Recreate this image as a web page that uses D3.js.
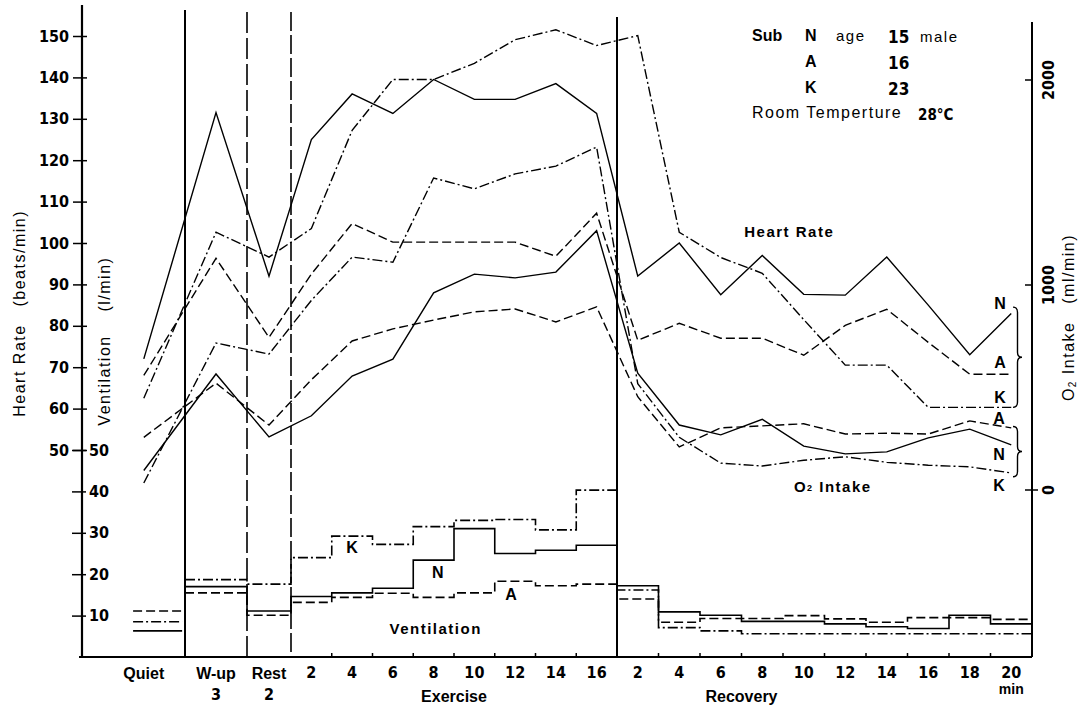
<!DOCTYPE html>
<html>
<head>
    <title>Heart Rate, O2 Intake and Ventilation</title>
    <script src="https://d3js.org/d3.v7.min.js"></script>
    <style>
        body {
            margin: 0;
            background: #fff;
        }
        svg {
            display: block;
            font-family: "Liberation Sans", Arial, sans-serif;
        }
        .num {
            font-family: "Liberation Sans Narrow", "DejaVu Sans Condensed", sans-serif;
            font-weight: bold;
            font-size: 16px;
        }
        .lbl {
            font-weight: bold;
            font-size: 16px;
        }
        .title {
            font-size: 15px;
            letter-spacing: 1.5px;
            white-space: pre;
        }
    </style>
</head>
<body>
    <div id="chart"></div>

    <script>
        // phases along the time axis
        const phases = ["Quiet", "W-up", "Rest", "Exercise", "Recovery"];
        const exMinutes = ["2", "4", "6", "8", "10", "12", "14", "16"];
        const recMinutes = ["2", "4", "6", "8", "10", "12", "14", "16", "18", "20"];
        const phaseSub = ["3", "2"]; // minutes of warm-up and rest

        // Heart rate (beats/min): quiet, w-up, rest, exercise x8, recovery x10
        const hrN = [72, 131.5, 92, 125, 136, 131.3, 139.5, 134.7, 134.7, 138.5, 131.3,
                     92, 100, 87.5, 97, 87.6, 87.4, 96.6, 85, 73, 83];
        const hrA = [68, 96.3, 77.2, 92.5, 104.7, 100.2, 100.2, 100.2, 100.2, 96.8, 107.2,
                     76.5, 80.6, 77, 77, 72.9, 80.1, 84, 76, 68.3, 68.3];
        const hrK = [62.5, 102.6, 96.6, 103.5, 127.2, 139.5, 139.5, 143.4, 149.1, 151.5, 147.7,
                     150.1, 102.6, 96.5, 92.7, 81.5, 70.5, 70.5, 60.3, 60.3, 60.3];

        // O2 intake (ml/min)
        const o2N = [95, 566, 259, 362, 556, 638, 962, 1053, 1035, 1063, 1265,
                     570, 317, 269, 345, 214, 176, 186, 254, 297, 220];
        const o2A = [257, 521, 317, 538, 727, 786, 829, 869, 883, 820, 893,
                     455, 210, 303, 313, 323, 273, 277, 273, 337, 303];
        const o2K = [34, 717, 663, 925, 1136, 1111, 1522, 1469, 1542, 1580, 1673,
                     519, 257, 131, 117, 145, 162, 135, 121, 113, 83];

        // Ventilation (l/min), one value per period
        const vN = [6.3, 17, 11.1, 14.6, 15.5, 16.6, 23.4, 31, 25, 25.8, 27,
                    17.2, 10.9, 10.1, 8.6, 8.6, 8.0, 7.3, 6.9, 10.1, 8.0];
        const vA = [11.1, 15.5, 10.1, 13.2, 14.4, 15.4, 14.4, 15.5, 18.3, 17.2, 17.6,
                    14.0, 8.4, 9.3, 9.3, 10.0, 9.2, 8.4, 9.5, 9.5, 9.1];
        const vK = [8.5, 18.7, 17.6, 24, 29.2, 27.2, 31.5, 33, 33.2, 30.7, 40.3,
                    16.2, 7.1, 6.3, 5.6, 5.6, 5.6, 5.6, 5.6, 5.6, 5.6];

        const hrTicks = [50, 60, 70, 80, 90, 100, 110, 120, 130, 140, 150];
        const ventTicks = [10, 20, 30, 40, 50];
        const o2Ticks = [0, 1000, 2000];

        const subjects = [
            {id: "N", age: 15, dash: null},
            {id: "A", age: 16, dash: "9,4"},
            {id: "K", age: 23, dash: "10,3,2,3"}
        ];

        const width = 1083, height = 705;
        const svg = d3.select("#chart").append("svg")
            .attr("width", width)
            .attr("height", height);

        // time axis in "slots": each 2-min period is one slot
        const x = d3.scaleLinear()
            .domain([0, 2.5, 4, 5, 13, 23])
            .range([82, 185, 247, 291, 617, 1032]);
        const y = d3.scaleLinear().domain([0, 150]).range([657, 36]);
        const yO2 = d3.scaleLinear().domain([0, 2000]).range([490, 80]);

        const slots = [1.5, 3.25, 4.5]
            .concat(exMinutes.map((d, i) => 5.5 + i))
            .concat(recMinutes.map((d, i) => 13.5 + i));

        // start of each period from w-up on (ventilation steps)
        const starts = [2.5, 4]
            .concat(exMinutes.map((d, i) => 5 + i))
            .concat(recMinutes.map((d, i) => 13 + i));

        // phase separators
        const seps = [
            {s: 2.5, dash: null, top: 10},
            {s: 4, dash: "21,5", top: 12},
            {s: 5, dash: "19,4", top: 12},
            {s: 13, dash: null, top: 17}
        ];
        svg.selectAll(".sep").data(seps).join("line")
            .attr("x1", d => x(d.s)).attr("x2", d => x(d.s))
            .attr("y1", d => d.top).attr("y2", y(0))
            .attr("stroke", "#000")
            .attr("stroke-width", d => d.dash ? 1.6 : 2)
            .attr("stroke-dasharray", d => d.dash);

        // axes frame
        svg.append("line").attr("x1", 82).attr("x2", 82).attr("y1", 5).attr("y2", y(0))
            .attr("stroke", "#000").attr("stroke-width", 2.2);
        svg.append("line").attr("x1", 79).attr("x2", x(23)).attr("y1", y(0)).attr("y2", y(0))
            .attr("stroke", "#000").attr("stroke-width", 2.2);
        svg.append("line").attr("x1", x(23)).attr("x2", x(23)).attr("y1", 22).attr("y2", y(0))
            .attr("stroke", "#000").attr("stroke-width", 2);

        // heart rate axis
        const hrAxis = svg.append("g")
            .attr("transform", "translate(82,0)")
            .call(d3.axisLeft(y).tickValues(hrTicks).tickSize(9).tickPadding(4));
        hrAxis.select(".domain").remove();
        hrAxis.selectAll(".tick line").attr("x2", -9).attr("x1", 5).attr("stroke-width", 1.5);
        hrAxis.selectAll("text").attr("class", "num").attr("fill", "#000");

        // ventilation axis (same scale)
        const vAxis = svg.append("g")
            .attr("transform", "translate(82,0)")
            .call(d3.axisRight(y).tickValues(ventTicks).tickSize(0).tickPadding(7));
        vAxis.select(".domain").remove();
        vAxis.selectAll(".tick line").attr("x1", -10).attr("x2", 4).attr("stroke-width", 1.5);
        vAxis.selectAll("text").attr("class", "num").attr("fill", "#000");

        // O2 axis on the right
        const o2g = svg.append("g").attr("transform", `translate(${x(23)},0)`);
        o2g.selectAll("line").data(o2Ticks).join("line")
            .attr("x1", -7).attr("x2", d => d === 0 ? 6 : 1)
            .attr("y1", d => yO2(d)).attr("y2", d => yO2(d))
            .attr("stroke", "#000").attr("stroke-width", 1.5);
        o2g.selectAll("text").data(o2Ticks).join("text")
            .attr("class", "num")
            .attr("transform", d => `translate(16,${yO2(d)}) rotate(-90)`)
            .attr("text-anchor", "middle")
            .attr("dominant-baseline", "central")
            .text(d => d);

        // small ticks on the time axis
        const timeTicks = starts.filter(e => e > 5 && e !== 13);
        svg.selectAll(".tt").data(timeTicks).join("line")
            .attr("x1", d => x(d)).attr("x2", d => x(d))
            .attr("y1", y(0)).attr("y2", y(0) - 4)
            .attr("stroke", "#000").attr("stroke-width", 1.5);

        // time labels
        svg.selectAll(".ex").data(exMinutes).join("text")
            .attr("class", "num")
            .attr("x", (d, i) => x(5.5 + i)).attr("y", 678)
            .attr("text-anchor", "middle").text(d => d);
        svg.selectAll(".rec").data(recMinutes).join("text")
            .attr("class", "num")
            .attr("x", (d, i) => x(13.5 + i)).attr("y", 678)
            .attr("text-anchor", "middle").text(d => d);

        const phaseLabels = [
            {t: phases[0], s: 1.5, y: 679},
            {t: phases[1], s: 3.25, y: 679},
            {t: phases[2], s: 4.5, y: 679},
            {t: phases[3], s: 9, y: 702},
            {t: phases[4], s: 16, y: 702}
        ];
        svg.selectAll(".ph").data(phaseLabels).join("text")
            .attr("class", "lbl")
            .attr("x", d => x(d.s)).attr("y", d => d.y)
            .attr("text-anchor", "middle").text(d => d.t);
        svg.selectAll(".phs").data(phaseSub).join("text")
            .attr("class", "num")
            .attr("x", (d, i) => x([3.25, 4.5][i])).attr("y", 700)
            .attr("text-anchor", "middle").text(d => d);
        svg.append("text").style("font-size", "14px").style("font-weight", "bold")
            .attr("x", x(22.5)).attr("y", 694).attr("text-anchor", "middle").text("min");

        // lines
        const hrLine = d3.line().x((d, i) => x(slots[i])).y(d => y(d));
        const o2Line = d3.line().x((d, i) => x(slots[i])).y(d => yO2(d));
        const stepLine = d3.line().x(d => x(d[0])).y(d => y(d[1])).curve(d3.curveStepAfter);

        const hrSeries = [hrN, hrA, hrK];
        const o2Series = [o2N, o2A, o2K];
        const vSeries = [vN, vA, vK];

        subjects.forEach((s, k) => {
            svg.append("path").datum(hrSeries[k])
                .attr("d", hrLine)
                .attr("fill", "none").attr("stroke", "#000").attr("stroke-width", 1.4)
                .attr("stroke-dasharray", s.dash);
            svg.append("path").datum(o2Series[k])
                .attr("d", o2Line)
                .attr("fill", "none").attr("stroke", "#000").attr("stroke-width", 1.4)
                .attr("stroke-dasharray", s.dash);

            // ventilation: quiet step stands alone, the rest is one stepped line
            const v = vSeries[k];
            svg.append("line")
                .attr("x1", x(1.24)).attr("x2", x(2.43))
                .attr("y1", y(v[0])).attr("y2", y(v[0]))
                .attr("stroke", "#000").attr("stroke-width", 1.6)
                .attr("stroke-dasharray", s.dash);
            const pts = v.slice(1).map((d, i) => [starts[i], d]);
            pts.push([23, v[v.length - 1]]);
            svg.append("path").datum(pts)
                .attr("d", stepLine)
                .attr("fill", "none").attr("stroke", "#000").attr("stroke-width", 1.6)
                .attr("stroke-dasharray", s.dash);
        });

        // axis titles
        svg.append("text").attr("class", "title")
            .attr("transform", `translate(19,${y(83)}) rotate(-90)`)
            .attr("text-anchor", "middle").attr("dominant-baseline", "central")
            .style("font-size", "16px")
            .text("Heart Rate   (beats/min)");
        svg.append("text").attr("class", "title")
            .attr("transform", `translate(104,${y(76.3)}) rotate(-90)`)
            .attr("text-anchor", "middle").attr("dominant-baseline", "central")
            .style("font-size", "16px")
            .text("Ventilation    (l/min)");
        const o2title = svg.append("text").attr("class", "title")
            .attr("transform", `translate(1068,${y(82)}) rotate(-90)`)
            .attr("text-anchor", "middle").attr("dominant-baseline", "central")
            .style("font-size", "16px");
        o2title.append("tspan").text("O");
        o2title.append("tspan").attr("font-size", "10px").attr("dy", 4).text("2");
        o2title.append("tspan").attr("dy", -4).text(" Intake   (ml/min)");

        // in-plot annotations
        svg.append("text").attr("class", "title").style("font-weight", "bold")
            .attr("x", x(17.15)).attr("y", 237).attr("text-anchor", "middle").text("Heart Rate");
        const o2lab = svg.append("text").attr("class", "title").style("font-weight", "bold")
            .attr("x", x(18.2)).attr("y", 492).attr("text-anchor", "middle");
        o2lab.append("tspan").text("O");
        o2lab.append("tspan").attr("font-size", "9px").attr("dy", -1).text("2");
        o2lab.append("tspan").attr("dy", 1).text(" Intake");
        svg.append("text").attr("class", "title").style("font-weight", "bold")
            .attr("x", x(8.55)).attr("y", 634).attr("text-anchor", "middle").text("Ventilation");

        // subject letters on the ventilation steps
        const ventLetters = [["K", 6.5, 26.5], ["N", 8.6, 20.5], ["A", 10.4, 15.2]];
        svg.selectAll(".vl").data(ventLetters).join("text")
            .attr("class", "lbl")
            .attr("x", d => x(d[1])).attr("y", d => y(d[2]))
            .attr("text-anchor", "middle").attr("dominant-baseline", "central")
            .text(d => d[0]);

        // subject letters at the right end
        const hrEnd = [["N", 85.4], ["A", 71.2], ["K", 62.8]];
        const o2End = [["A", 351], ["N", 171], ["K", 24]];
        svg.selectAll(".he").data(hrEnd).join("text")
            .attr("class", "lbl")
            .attr("x", 1000).attr("y", d => y(d[1]))
            .attr("text-anchor", "middle").attr("dominant-baseline", "central")
            .text(d => d[0]);
        svg.selectAll(".oe").data(o2End).join("text")
            .attr("class", "lbl")
            .attr("x", 999).attr("y", d => yO2(d[1]))
            .attr("text-anchor", "middle").attr("dominant-baseline", "central")
            .text(d => d[0]);

        // curly braces grouping the end labels
        function brace(y0, y1) {
            const x0 = 1013, w = 9, r = 5, m = (y0 + y1) / 2;
            const p = d3.path();
            p.moveTo(x0, y0);
            p.quadraticCurveTo(x0 + w / 2, y0, x0 + w / 2, y0 + r);
            p.lineTo(x0 + w / 2, m - r);
            p.quadraticCurveTo(x0 + w / 2, m, x0 + w, m);
            p.quadraticCurveTo(x0 + w / 2, m, x0 + w / 2, m + r);
            p.lineTo(x0 + w / 2, y1 - r);
            p.quadraticCurveTo(x0 + w / 2, y1, x0, y1);
            return p.toString();
        }
        svg.append("path").attr("d", brace(y(84.5), y(60.3)))
            .attr("fill", "none").attr("stroke", "#000").attr("stroke-width", 1.4);
        svg.append("path").attr("d", brace(yO2(310), yO2(65)))
            .attr("fill", "none").attr("stroke", "#000").attr("stroke-width", 1.4);

        // legend block
        const legend = svg.append("g");
        legend.append("text").attr("class", "lbl")
            .attr("x", 752).attr("y", 41).text("Sub");
        subjects.forEach((s, i) => {
            legend.append("text").attr("class", "lbl")
                .attr("x", 805).attr("y", 41 + i * 26).text(s.id);
            legend.append("text").attr("class", "num").style("font-size", "17px")
                .attr("x", 888).attr("y", 43 + i * 26).text(s.age);
        });
        legend.append("text").attr("class", "title").attr("x", 836).attr("y", 41).text("age");
        legend.append("text").attr("class", "title").attr("x", 920).attr("y", 42).text("male");
        legend.append("text").attr("class", "title").style("font-size", "16px")
            .attr("x", 752).attr("y", 118).text("Room Temperture");
        legend.append("text").attr("class", "num").style("font-size", "15px")
            .attr("x", 918).attr("y", 120).text("28°C");
    </script>
</body>
</html>
